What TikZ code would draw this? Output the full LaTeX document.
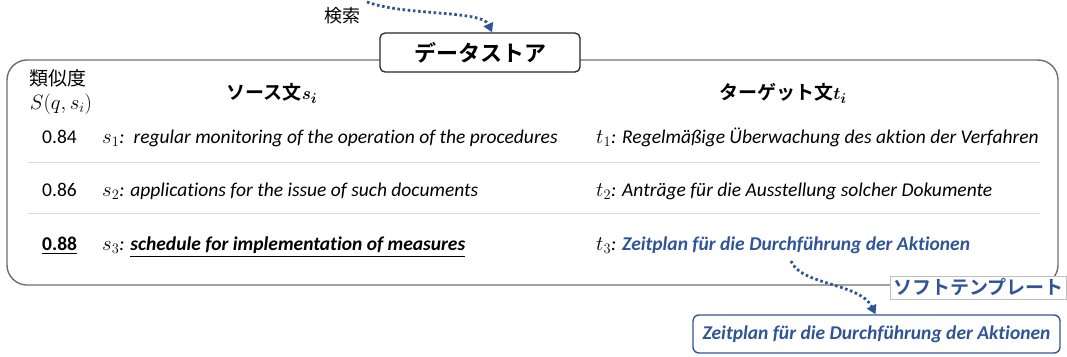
\documentclass[tikz,border=0pt]{standalone}
\usepackage{amsmath}
\usepackage{bm}
\usepackage{fontspec}
\setmainfont{Carlito}[Ligatures=NoCommon]
\newfontfamily\jp{Noto Sans CJK JP}[BoldFont={Noto Sans CJK JP Bold}]
\usetikzlibrary{arrows.meta}
\definecolor{accent}{HTML}{2F5597}
\definecolor{framegray}{HTML}{6E6E6E}
\definecolor{rulegray}{HTML}{D9D9D9}

\begin{document}
\begin{tikzpicture}[x=1pt,y=-1pt,
  cell/.style={font=\fontsize{19.5}{22}\selectfont, anchor=base west, inner sep=0pt},
  sent/.style={cell, font=\fontsize{19.5}{22}\selectfont\itshape},
  colhead/.style={font=\fontsize{19}{22}\selectfont\jp\bfseries, inner sep=0pt},
  flow/.style={accent, line width=2.8pt, dash pattern=on 2.6pt off 2.6pt,
    -{Triangle[length=9pt,width=10pt]}},
  hit/.style={accent, font=\fontsize{19.5}{22}\selectfont\bfseries\itshape}
]
\useasboundingbox (0,0) rectangle (1067,356);

% outer frame of the data store
\draw[framegray, line width=1.4pt, rounded corners=20pt] (7,60) rectangle (1058,285);

% title box
\node[draw=black!85, line width=1.3pt, rounded corners=5pt, fill=white,
      minimum width=200pt, minimum height=39pt, inner sep=0pt,
      font=\fontsize{22}{25}\selectfont\jp\bfseries] (ds) at (480,52.5) {データストア};

% retrieval arrow
\node[font=\fontsize{18}{20}\selectfont\jp, inner sep=0pt] (search) at (342,16) {検索};
\coordinate (qry) at (367,2);
\draw[flow] (qry) .. controls (405,16) and (482,10) .. ([xshift=12pt]ds.north);

% column headers
\node[font=\fontsize{19}{22}\selectfont\jp, inner sep=0pt] (simj) at (58,78) {類似度};
\node[font=\fontsize{20.5}{22}\selectfont, inner sep=0pt] (simf) at (61,104) {$S(q,s_i)$};
\node[colhead] (hsrc) at (272,93) {ソース文$\bm{s_i}$};
\node[colhead] (htgt) at (783,93) {ターゲット文$\bm{t_i}$};

% row separators
\draw[rulegray, line width=0.6pt] (28,162) -- (1040,162);
\draw[rulegray, line width=0.6pt] (28,213) -- (1040,213);

% row 1
\node[cell] (sc1) at (42,143) {0.84};
\node[sent] (s1) at (102,143) {$s_1$:\, regular monitoring of the operation of the procedures};
\node[sent] (t1) at (596,143) {$t_1$: Regelmäßige Überwachung des aktion der Verfahren};

% row 2
\node[cell] (sc2) at (42,196) {0.86};
\node[sent] (s2) at (102,196) {$s_2$: applications for the issue of such documents};
\node[sent] (t2) at (596,196) {$t_2$: Anträge für die Ausstellung solcher Dokumente};

% row 3 (best match)
\node[cell, font=\fontsize{19.5}{22}\selectfont\bfseries] (sc3) at (42,250) {\underline{0.88}};
\node[sent] (s3) at (102,250) {$s_3$: \underline{\bfseries schedule for implementation of measures}};
\node[sent] (t3) at (596,250) {$t_3$: {\color{accent}\bfseries Zeitplan für die Durchführung der Aktionen}};

% soft template label and output
\node[fill=white, draw=black!25, line width=0.6pt, anchor=west, minimum height=23pt,
      minimum width=176pt, inner sep=1pt, text=accent,
      font=\fontsize{19}{21}\selectfont\jp\bfseries] (soft) at (890,287.5) {ソフトテンプレート};
\node[draw=accent, line width=1.4pt, rounded corners=6pt, minimum width=367pt,
      minimum height=38pt, inner sep=0pt, hit] (out) at (876.5,334) {Zeitplan für die Durchführung der Aktionen};
\coordinate (tsrc) at (791,261);
\draw[flow] (tsrc) .. controls (800,285) and (860,283) .. ([xshift=-1pt]out.north);
\end{tikzpicture}
\end{document}
